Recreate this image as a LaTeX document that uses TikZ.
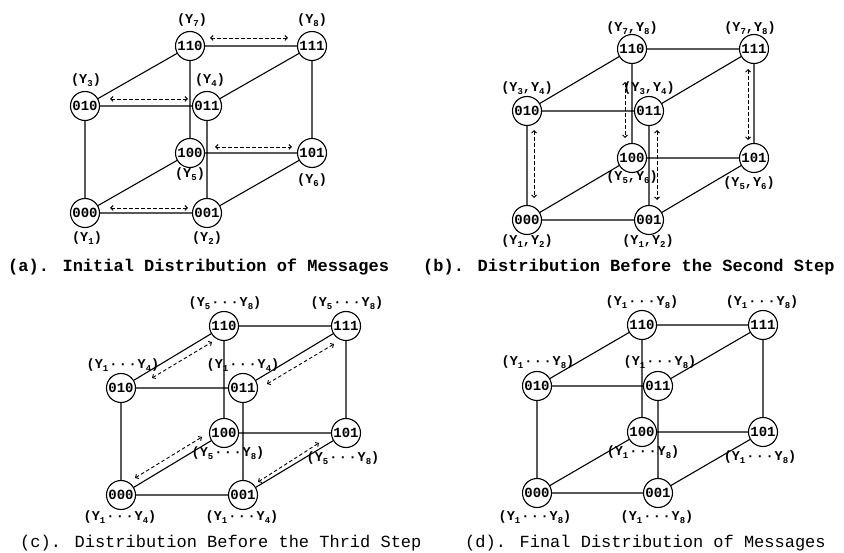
\documentclass[tikz,border=0pt]{standalone}
\usepackage{fontspec}
\newfontfamily\cour{Liberation Mono}
\usetikzlibrary{arrows.meta,calc}
\newcommand\ys[1]{\raisebox{-0.22em}{\fontsize{9}{9}\selectfont #1}}
\newcommand\yd{\kern1pt·\kern1.5pt·\kern1.5pt·\kern1pt}
\tikzset{
 nd/.style={circle,draw,line width=1.1pt,fill=white,minimum size=29pt,inner sep=0pt,font=\cour\bfseries\fontsize{14}{14}\selectfont},
 edge/.style={line width=1.1pt},
 lab/.style={inner sep=0pt,font=\cour\bfseries\fontsize{13.5}{13.5}\selectfont},
 darr/.style={line width=0.9pt,dash pattern=on 3.5pt off 2.5pt,{Straight Barb[length=2.5pt,width=5pt]}-{Straight Barb[length=2.5pt,width=5pt]}},
 capb/.style={anchor=west,inner sep=0pt,font=\cour\bfseries\fontsize{17}{17}\selectfont},
 capr/.style={anchor=west,inner sep=0pt,font=\cour\fontsize{17}{17}\selectfont},
}
\newcommand\hcube[7]{%
 \node[nd] (#1000) at (#2,#3) {000};
 \node[nd] (#1001) at ({#2+#4},#3) {001};
 \node[nd] (#1010) at (#2,{#3-#5}) {010};
 \node[nd] (#1011) at ({#2+#4},{#3-#5}) {011};
 \node[nd] (#1100) at ({#2+#6},{#3+#7}) {100};
 \node[nd] (#1101) at ({#2+#4+#6},{#3+#7}) {101};
 \node[nd] (#1110) at ({#2+#6},{#3+#7-#5}) {110};
 \node[nd] (#1111) at ({#2+#4+#6},{#3+#7-#5}) {111};
 \draw[edge] (#1000)--(#1001) (#1000)--(#1010) (#1000)--(#1100)
   (#1001)--(#1011) (#1001)--(#1101) (#1010)--(#1011) (#1010)--(#1110)
   (#1011)--(#1111) (#1100)--(#1101) (#1100)--(#1110) (#1101)--(#1111)
   (#1110)--(#1111);
}
\begin{document}
\begin{tikzpicture}[x=1pt,y=-1pt]
\useasboundingbox (0,0) rectangle (844,553);
% ---------- (a)
\hcube{a}{85}{213}{122}{107}{105}{-60}
\node[lab] (a000l) at (87,238) {(Y\ys{1})};
\node[lab] (a001l) at (207,238) {(Y\ys{2})};
\node[lab] (a010l) at (86,80) {(Y\ys{3})};
\node[lab] (a011l) at (210,80) {(Y\ys{4})};
\node[lab] (a100l) at (190,174) {(Y\ys{5})};
\node[lab] (a101l) at (312,180) {(Y\ys{6})};
\node[lab] (a110l) at (192,20) {(Y\ys{7})};
\node[lab] (a111l) at (312,20) {(Y\ys{8})};
\draw[darr] ($(a110)+(20,-8)$) -- ($(a111)+(-24,-8)$);
\draw[darr] ($(a010)+(25,-7)$) -- ($(a011)+(-19,-7)$);
\draw[darr] ($(a100)+(25,-6)$) -- ($(a101)+(-20,-6)$);
\draw[darr] ($(a000)+(25,-5)$) -- ($(a001)+(-19,-5)$);
\node[capb] (capa) at (8,267) {(a). Initial Distribution of Messages};
% ---------- (b)
\hcube{b}{527}{220}{122}{109}{105}{-62}
\node[lab] (b000l) at (527,241) {(Y\ys{1},Y\ys{2})};
\node[lab] (b001l) at (648,241) {(Y\ys{1},Y\ys{2})};
\node[lab] (b010l) at (527,88) {(Y\ys{3},Y\ys{4})};
\node[lab] (b011l) at (649,88) {(Y\ys{3},Y\ys{4})};
\node[lab] (b100l) at (632,177) {(Y\ys{5},Y\ys{6})};
\node[lab] (b101l) at (749,183) {(Y\ys{5},Y\ys{6})};
\node[lab] (b110l) at (632,28) {(Y\ys{7},Y\ys{8})};
\node[lab] (b111l) at (750,28) {(Y\ys{7},Y\ys{8})};
\draw[darr] ($(b010)+(7,19)$) -- ($(b000)+(7,-22)$);
\draw[darr] ($(b110)+(-7,33)$) -- ($(b100)+(-7,-20)$);
\draw[darr] ($(b011)+(8,19)$) -- ($(b001)+(8,-20)$);
\draw[darr] ($(b111)+(-6,20)$) -- ($(b101)+(-6,-18)$);
\node[capb] (capb) at (423,267) {(b). Distribution Before the Second Step};
% ---------- (c)
\hcube{c}{121}{495}{122}{107}{103}{-62}
\node[lab] (c000l) at (120,517) {(Y\ys{1}\yd Y\ys{4})};
\node[lab] (c001l) at (242,517) {(Y\ys{1}\yd Y\ys{4})};
\node[lab] (c010l) at (123,365) {(Y\ys{1}\yd Y\ys{4})};
\node[lab] (c011l) at (243,365) {(Y\ys{1}\yd Y\ys{4})};
\node[lab] (c100l) at (228,453) {(Y\ys{5}\yd Y\ys{8})};
\node[lab] (c101l) at (343,458) {(Y\ys{5}\yd Y\ys{8})};
\node[lab] (c110l) at (225,303) {(Y\ys{5}\yd Y\ys{8})};
\node[lab] (c111l) at (347,303) {(Y\ys{5}\yd Y\ys{8})};
\draw[darr] ($(c010)+(31,-10)$) -- ($(c110)+(-12,16)$);
\draw[darr] ($(c011)+(24,-4)$) -- ($(c111)+(-12,18)$);
\draw[darr] ($(c000)+(14,-17)$) -- ($(c100)+(-22,4)$);
\draw[darr] ($(c001)+(15,-13)$) -- ($(c101)+(-27,10)$);
\node[capr] (capc) at (20,543) {(c). Distribution Before the Thrid Step};
% ---------- (d)
\hcube{d}{537}{493}{121}{107}{105}{-61}
\node[lab] (d000l) at (535,517) {(Y\ys{1}\yd Y\ys{8})};
\node[lab] (d001l) at (657,517) {(Y\ys{1}\yd Y\ys{8})};
\node[lab] (d010l) at (538,362) {(Y\ys{1}\yd Y\ys{8})};
\node[lab] (d011l) at (660,362) {(Y\ys{1}\yd Y\ys{8})};
\node[lab] (d100l) at (643,452) {(Y\ys{1}\yd Y\ys{8})};
\node[lab] (d101l) at (760,457) {(Y\ys{1}\yd Y\ys{8})};
\node[lab] (d110l) at (642,302) {(Y\ys{1}\yd Y\ys{8})};
\node[lab] (d111l) at (762,302) {(Y\ys{1}\yd Y\ys{8})};
\node[capr] (capd) at (465,543) {(d). Final Distribution of Messages};
\end{tikzpicture}
\end{document}
